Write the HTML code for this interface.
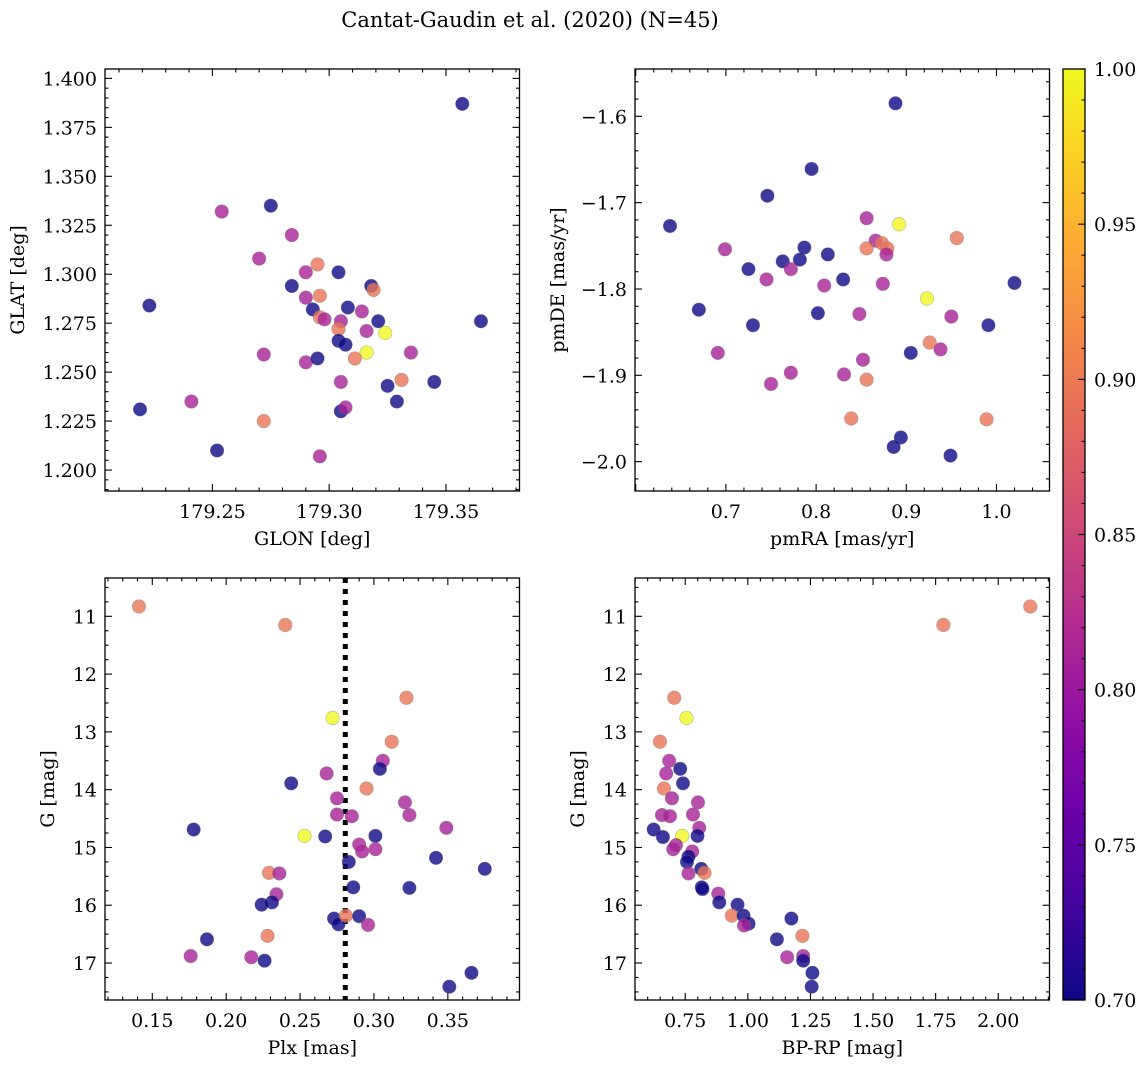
<!DOCTYPE html>
<html><head><meta charset="utf-8"><style>
html,body{margin:0;padding:0;background:#fff;}
svg text{font-family:"DejaVu Serif","Liberation Serif",serif;fill:#000;}
</style></head><body>
<svg id="fig" width="1148" height="1068" viewBox="0 0 1148 1068" xmlns="http://www.w3.org/2000/svg">
<defs>
<linearGradient id="plasma" x1="0" y1="1" x2="0" y2="0">
<stop offset="0" stop-color="#0d0887"/><stop offset="0.1" stop-color="#41049d"/><stop offset="0.2" stop-color="#6a00a8"/><stop offset="0.3" stop-color="#8f0da4"/><stop offset="0.4" stop-color="#b12a90"/><stop offset="0.5" stop-color="#cc4778"/><stop offset="0.6" stop-color="#e16462"/><stop offset="0.7" stop-color="#f2844b"/><stop offset="0.8" stop-color="#fca636"/><stop offset="0.9" stop-color="#fcce25"/><stop offset="1" stop-color="#f0f921"/>
</linearGradient>
</defs>
<text x="530" y="27" font-size="21" text-anchor="middle">Cantat-Gaudin et al. (2020) (N=45)</text>
</svg>
<script>
// ---- data ----
const glon = [179.357,179.275,179.254,179.284,179.270,179.295,179.290,179.304,179.284,179.318,179.319,179.290,179.296,179.293,179.308,179.314,179.223,179.296,179.298,179.305,179.321,179.365,179.304,179.316,179.324,179.304,179.307,179.316,179.335,179.311,179.272,179.290,179.295,179.305,179.325,179.331,179.345,179.241,179.219,179.305,179.307,179.329,179.272,179.252,179.296];
const glat = [1.387,1.335,1.332,1.320,1.308,1.305,1.301,1.301,1.294,1.294,1.292,1.288,1.289,1.282,1.283,1.281,1.284,1.278,1.277,1.276,1.276,1.276,1.272,1.271,1.270,1.266,1.264,1.260,1.260,1.257,1.259,1.255,1.257,1.245,1.243,1.246,1.245,1.235,1.231,1.230,1.232,1.235,1.225,1.210,1.207];
const probPos = [0.70,0.70,0.81,0.81,0.81,0.895,0.81,0.70,0.70,0.70,0.895,0.81,0.895,0.70,0.70,0.81,0.70,0.895,0.81,0.81,0.70,0.70,0.895,0.81,1.00,0.70,0.70,1.00,0.81,0.895,0.81,0.81,0.70,0.81,0.70,0.895,0.70,0.81,0.70,0.70,0.81,0.70,0.895,0.70,0.81];

const pmra = [0.888,0.795,0.746,0.638,0.856,0.892,0.956,0.699,0.787,0.866,0.856,0.873,0.879,0.878,0.813,0.763,0.782,0.725,0.772,0.745,0.830,0.809,0.874,1.020,0.923,0.670,0.802,0.848,0.950,0.730,0.991,0.926,0.938,0.691,0.905,0.852,0.772,0.831,0.750,0.856,0.839,0.989,0.894,0.886,0.949];
const pmde = [-1.585,-1.661,-1.692,-1.727,-1.718,-1.725,-1.741,-1.754,-1.752,-1.744,-1.753,-1.747,-1.753,-1.760,-1.760,-1.768,-1.766,-1.777,-1.777,-1.789,-1.789,-1.796,-1.794,-1.793,-1.811,-1.824,-1.828,-1.829,-1.832,-1.842,-1.842,-1.862,-1.870,-1.874,-1.874,-1.882,-1.897,-1.899,-1.910,-1.905,-1.950,-1.951,-1.972,-1.983,-1.993];
const probPm = [0.70,0.70,0.70,0.70,0.81,1.00,0.895,0.81,0.70,0.81,0.895,0.895,0.895,0.81,0.70,0.70,0.70,0.70,0.81,0.81,0.70,0.81,0.81,0.70,1.00,0.70,0.70,0.81,0.81,0.70,0.70,0.895,0.81,0.81,0.70,0.81,0.81,0.81,0.81,0.895,0.895,0.895,0.70,0.70,0.70];

const plx = [0.141,0.240,0.322,0.272,0.312,0.306,0.304,0.268,0.244,0.295,0.275,0.321,0.275,0.285,0.324,0.349,0.178,0.253,0.267,0.301,0.290,0.292,0.301,0.283,0.342,0.375,0.229,0.236,0.286,0.324,0.234,0.231,0.224,0.273,0.276,0.281,0.290,0.296,0.228,0.187,0.176,0.217,0.226,0.366,0.351];
const gPlx = [10.83,11.15,12.41,12.76,13.17,13.50,13.64,13.72,13.89,13.98,14.15,14.22,14.43,14.46,14.44,14.66,14.69,14.80,14.81,14.80,14.95,15.07,15.03,15.25,15.18,15.37,15.44,15.45,15.69,15.70,15.81,15.95,15.99,16.23,16.33,16.18,16.19,16.34,16.53,16.59,16.88,16.90,16.96,17.17,17.41];
const probPlx = [0.895,0.895,0.895,1.00,0.895,0.81,0.70,0.81,0.70,0.895,0.81,0.81,0.81,0.81,0.81,0.81,0.70,1.00,0.70,0.70,0.81,0.81,0.81,0.70,0.70,0.70,0.895,0.81,0.70,0.70,0.81,0.70,0.70,0.70,0.70,0.895,0.70,0.81,0.895,0.70,0.81,0.81,0.70,0.70,0.70];
const plxRef = [0.2806];

const bprp = [2.128,1.781,0.706,0.755,0.649,0.686,0.730,0.674,0.741,0.665,0.697,0.801,0.657,0.689,0.781,0.806,0.624,0.738,0.661,0.799,0.713,0.702,0.778,0.763,0.757,0.814,0.827,0.763,0.816,0.819,0.882,0.886,0.959,0.936,0.983,1.003,0.985,1.174,1.218,1.116,1.157,1.221,1.221,1.258,1.255];
const gCmd = [10.83,11.15,12.41,12.76,13.17,13.50,13.64,13.72,13.89,13.98,14.15,14.22,14.44,14.46,14.43,14.66,14.69,14.80,14.82,14.80,14.96,15.03,15.07,15.16,15.25,15.37,15.44,15.45,15.69,15.72,15.80,15.95,15.99,16.18,16.18,16.32,16.35,16.23,16.53,16.59,16.90,16.88,16.96,17.17,17.41];
const probCmd = [0.895,0.895,0.895,1.00,0.895,0.81,0.70,0.81,0.70,0.895,0.81,0.81,0.81,0.81,0.81,0.81,0.70,1.00,0.70,0.70,0.81,0.81,0.81,0.70,0.70,0.70,0.895,0.81,0.70,0.70,0.81,0.70,0.70,0.895,0.70,0.70,0.81,0.70,0.895,0.70,0.81,0.81,0.70,0.70,0.70];

const ticks1x = [179.25,179.30,179.35];
const ticks1y = [1.200,1.225,1.250,1.275,1.300,1.325,1.350,1.375,1.400];
const ticks2x = [0.7,0.8,0.9,1.0];
const ticks2y = [-2.0,-1.9,-1.8,-1.7,-1.6];
const ticks3x = [0.15,0.20,0.25,0.30,0.35];
const ticksG = [11,12,13,14,15,16,17];
const ticks4x = [0.75,1.00,1.25,1.50,1.75,2.00];
const cbarTicks = [0.70,0.75,0.80,0.85,0.90,0.95,1.00];

// ---- drawing ----
const NS = "http://www.w3.org/2000/svg";
const svg = document.getElementById('fig');
const FS = 19;
const stops = [[0,13,8,135],[0.1,65,4,157],[0.2,106,0,168],[0.3,143,13,164],[0.4,177,42,144],[0.5,204,71,120],[0.6,225,100,98],[0.7,242,132,75],[0.8,252,166,54],[0.9,252,206,37],[1,240,249,33]];
function plasma(p){
  let t=(p-0.7)/0.3; t=Math.max(0,Math.min(1,t));
  for(let i=0;i<stops.length-1;i++){
    const a=stops[i],b=stops[i+1];
    if(t<=b[0]){const f=(t-a[0])/(b[0]-a[0]);
      return `rgb(${Math.round(a[1]+f*(b[1]-a[1]))},${Math.round(a[2]+f*(b[2]-a[2]))},${Math.round(a[3]+f*(b[3]-a[3]))})`;}
  }
  return 'rgb(240,249,33)';
}
function mk(tag,attrs,parent){const e=document.createElementNS(NS,tag);for(const k in attrs)e.setAttribute(k,attrs[k]);(parent||svg).appendChild(e);return e;}

function panel(cfg){
  const g=mk('g',{});
  
  
  const sx=v=>cfg.x0+(v-cfg.xmin)/(cfg.xmax-cfg.xmin)*(cfg.x1-cfg.x0);
  const sy=v=>cfg.yinv? cfg.y0+(v-cfg.ymin)/(cfg.ymax-cfg.ymin)*(cfg.y1-cfg.y0)
                       : cfg.y1-(v-cfg.ymin)/(cfg.ymax-cfg.ymin)*(cfg.y1-cfg.y0);
  const eps=1e-9;
  for(let v=Math.ceil(cfg.xmin/cfg.xminor-eps)*cfg.xminor; v<=cfg.xmax; v+=cfg.xminor){
    const X=sx(v); const major=Math.abs((v/cfg.xmajor)-Math.round(v/cfg.xmajor))<1e-6;
    const L=major?7:3.5;
    mk('line',{x1:X,y1:cfg.y1,x2:X,y2:cfg.y1-L,stroke:'#000','stroke-width':1.1},g);
    mk('line',{x1:X,y1:cfg.y0,x2:X,y2:cfg.y0+L,stroke:'#000','stroke-width':1.1},g);
  }
  for(let v=Math.ceil(cfg.ymin/cfg.yminor-eps)*cfg.yminor; v<=cfg.ymax; v+=cfg.yminor){
    const Y=sy(v); const major=Math.abs((v/cfg.ymajor)-Math.round(v/cfg.ymajor))<1e-6;
    const L=major?7:3.5;
    mk('line',{x1:cfg.x0,y1:Y,x2:cfg.x0+L,y2:Y,stroke:'#000','stroke-width':1.1},g);
    mk('line',{x1:cfg.x1,y1:Y,x2:cfg.x1-L,y2:Y,stroke:'#000','stroke-width':1.1},g);
  }
  cfg.xt.forEach(t=>{
    const tx=mk('text',{x:sx(t),y:cfg.y1+27,'font-size':FS,'text-anchor':'middle'},g);
    
    
    tx.textContent=t.toFixed(cfg.xdec);
  });
  cfg.yt.forEach(t=>{
    const tx=mk('text',{x:cfg.x0-8,y:sy(t)+7,'font-size':FS,'text-anchor':'end'},g);
    
    
    tx.textContent=cfg.ydec===0?String(t):(t<0?'\u2212'+Math.abs(t).toFixed(cfg.ydec):t.toFixed(cfg.ydec));
  });
  const xl=mk('text',{x:(cfg.x0+cfg.x1)/2,y:cfg.y1+54,'font-size':FS,'text-anchor':'middle'},g);
  
  
  xl.textContent=cfg.xlabel;
  const yl=mk('text',{x:0,y:0,'font-size':FS,'text-anchor':'middle',transform:`translate(${cfg.ylx},${(cfg.y0+cfg.y1)/2}) rotate(-90)`},g);
  
  
  yl.textContent=cfg.ylabel;
  if(cfg.vline){
    const vl=mk('line',{x1:sx(cfg.vline[0]),y1:cfg.y0,x2:sx(cfg.vline[0]),y2:cfg.y1,stroke:'#000','stroke-width':5,'stroke-dasharray':'5,6'},g);
    
    
  }
  cfg.xs.forEach((v,i)=>{
    const c=mk('circle',{cx:sx(v),cy:sy(cfg.ys[i]),r:6.8,fill:plasma(cfg.ps[i]),'fill-opacity':0.8,stroke:'#777','stroke-opacity':0.5,'stroke-width':0.6},g);
    
    
  });
  const fr=mk('rect',{x:cfg.x0,y:cfg.y0,width:cfg.x1-cfg.x0,height:cfg.y1-cfg.y0,fill:'none',stroke:'#000','stroke-width':1.3},g);
  
  
}

panel({name:'glon-glat-panel',x0:105,x1:519.5,y0:69,y1:491,xmin:179.204,xmax:179.3815,ymin:1.1893,ymax:1.4048,
  xt:ticks1x,yt:ticks1y,xdec:2,ydec:3,xminor:0.01,xmajor:0.05,yminor:0.005,ymajor:0.025,
  xlabel:'GLON [deg]',ylabel:'GLAT [deg]',ylx:24,xs:glon,ys:glat,ps:probPos});
panel({name:'proper-motion-panel',x0:635,x1:1049.5,y0:69,y1:491,xmin:0.5992,xmax:1.0588,ymin:-2.034,ymax:-1.5452,
  xt:ticks2x,yt:ticks2y,xdec:1,ydec:1,xminor:0.02,xmajor:0.1,yminor:0.02,ymajor:0.1,
  xlabel:'pmRA [mas/yr]',ylabel:'pmDE [mas/yr]',ylx:564,xs:pmra,ys:pmde,ps:probPm});
panel({name:'parallax-magnitude-panel',x0:105,x1:519.5,y0:578,y1:1000,xmin:0.118,xmax:0.3985,ymin:10.337,ymax:17.64,yinv:true,
  xt:ticks3x,yt:ticksG,xdec:2,ydec:0,xminor:0.01,xmajor:0.05,yminor:0.25,ymajor:1,
  xlabel:'Plx [mas]',ylabel:'G [mag]',ylx:54,xs:plx,ys:gPlx,ps:probPlx,vline:plxRef});
panel({name:'color-magnitude-panel',x0:635,x1:1049.5,y0:578,y1:1000,xmin:0.5494,xmax:2.2047,ymin:10.337,ymax:17.64,yinv:true,
  xt:ticks4x,yt:ticksG,xdec:2,ydec:0,xminor:0.05,xmajor:0.25,yminor:0.25,ymajor:1,
  xlabel:'BP-RP [mag]',ylabel:'G [mag]',ylx:584,xs:bprp,ys:gCmd,ps:probCmd});

// colorbar
const cb=mk('g',{});


const cy0=69, cy1=1000, cx0=1063, cx1=1085;
const cys=v=>cy1-(v-0.7)/0.3*(cy1-cy0);
mk('rect',{x:cx0,y:cy0,width:cx1-cx0,height:cy1-cy0,fill:'url(#plasma)'},cb);
for(let v=0.70; v<=1.0001; v+=0.01){
  const Y=cys(v); const major=Math.abs(v*20-Math.round(v*20))<1e-6;
  mk('line',{x1:cx1,y1:Y,x2:cx1-(major?7:3.5),y2:Y,stroke:'#000','stroke-width':1.1},cb);
}
cbarTicks.forEach(t=>{
  const tx=mk('text',{x:cx1+9,y:cys(t)+7,'font-size':FS},cb);
  
  
  tx.textContent=t.toFixed(2);
});
mk('rect',{x:cx0,y:cy0,width:cx1-cx0,height:cy1-cy0,fill:'none',stroke:'#000','stroke-width':1.3},cb);
</script>
</body></html>
